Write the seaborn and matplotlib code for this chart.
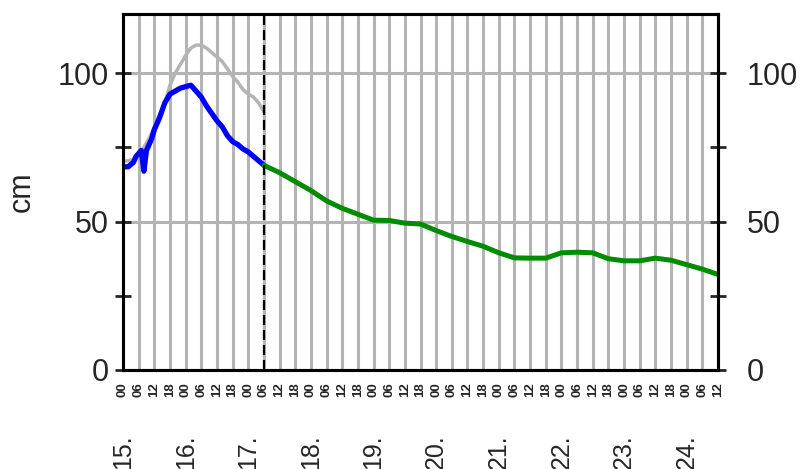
import matplotlib
matplotlib.use("Agg")
import matplotlib.pyplot as plt
import numpy as np
import pandas as pd
import seaborn as sns
from matplotlib.ticker import FixedLocator, MultipleLocator

# time axis: hours since day 15, 00:00
obs_hours = [0, 2, 4, 5, 6, 7, 8, 9, 10, 11, 12, 14, 16, 18, 20, 22, 24, 26, 28,
             30, 32, 34, 36, 38, 40, 42, 44, 46, 48, 50, 52, 54]
obs_cm = [68.5, 68.5, 70, 72, 73, 74, 67, 74, 76, 78, 81, 85, 90, 93, 94, 95, 95.5, 96, 94,
          92, 89, 86.5, 84, 82, 79, 77, 76, 74.5, 73.5, 72, 70.5, 69]

prev_hours = [0, 2, 4, 6, 8, 10, 12, 14, 16, 18, 20, 22, 24, 26, 28,
              30, 32, 34, 36, 38, 40, 42, 44, 46, 48, 50, 52, 54]
prev_cm = [70.5, 70.5, 71, 73, 75, 78, 82, 86, 90, 96, 100, 103, 106, 108.5, 109.5,
           109.5, 108.5, 107, 105.5, 104, 101.5, 99, 97, 94.5, 93, 92, 90, 87]

fc_hours = [54, 60, 66, 72, 78, 84, 90, 96, 102, 108, 114, 120, 126, 132, 138, 144,
            150, 156, 162, 168, 174, 180, 186, 192, 198, 204, 210, 216, 222, 228]
fc_cm = [69, 66.5, 63.5, 60.5, 57, 54.5, 52.5, 50.5, 50.4, 49.5, 49.2, 47, 45, 43.3, 41.7, 39.5,
         37.8, 37.7, 37.7, 39.5, 39.7, 39.5, 37.5, 36.8, 36.8, 37.7, 37, 35.5, 34, 32.2]

days = [15, 16, 17, 18, 19, 20, 21, 22, 23, 24]
hours_of_day = ["00", "06", "12", "18"]
now_hour = 54

tick_pos = list(range(0, 229, 6))
hour_labels = [hours_of_day[(t % 24) // 6] for t in tick_pos]
day_pos = [i * 24 for i in range(len(days))]
day_labels = [f"{d}." for d in days]

obs = pd.DataFrame({"h": obs_hours, "cm": obs_cm})
prev = pd.DataFrame({"h": prev_hours, "cm": prev_cm})
fc = pd.DataFrame({"h": fc_hours, "cm": fc_cm})

sns.set_style("white")
plt.rcParams["font.family"] = ["Liberation Sans", "DejaVu Sans"]

grey = "#b4b4b4"
fig = plt.figure(figsize=(8, 4.69), dpi=100)
ax = fig.add_axes([0.15375, 0.2111, 0.74375, 0.7591])

sns.lineplot(data=prev, x="h", y="cm", ax=ax, color=grey, lw=2.5, zorder=3)
sns.lineplot(data=obs, x="h", y="cm", ax=ax, color="#0000ff", lw=3.8, zorder=4)
sns.lineplot(data=fc, x="h", y="cm", ax=ax, color="#008c00", lw=3.6, zorder=4)
ax.axvline(now_hour, color="black", lw=1.6, ls=(0, (4.5, 2.25)), zorder=5)

ax.set_xlim(0, 228)
ax.set_ylim(0, 120)

# 6-hourly ticks with hour labels, hourly minor ticks
ax.xaxis.set_major_locator(FixedLocator(tick_pos))
ax.set_xticklabels(hour_labels, rotation=90, fontsize=9.5, fontweight="bold")
ax.xaxis.set_minor_locator(MultipleLocator(1))
ax.tick_params(axis="x", which="both", direction="inout", length=10, width=1.2,
               color="black", pad=4)

# day labels further down
sec = ax.secondary_xaxis("bottom")
sec.set_xticks(day_pos, day_labels)
sec.tick_params(axis="x", length=0, pad=46, labelsize=18, labelrotation=90)
sec.spines["bottom"].set_visible(False)

ax.set_yticks([0, 50, 100])
ax.yaxis.set_minor_locator(FixedLocator([25, 75]))
ax.tick_params(axis="y", which="both", direction="inout", length=11, width=2,
               labelsize=22, pad=5)

ax.grid(True, axis="x", which="major", color=grey, lw=2.2, zorder=1)
ax.grid(True, axis="y", which="major", color=grey, lw=2.2, zorder=1)
ax.set_axisbelow(True)

ax.set_xlabel("")
ax.set_ylabel("cm", fontsize=22)
ax.yaxis.set_label_coords(-0.1445, 0.5)

ax2 = ax.twinx()
ax2.set_ylim(0, 120)
ax2.set_yticks([0, 50, 100])
ax2.yaxis.set_minor_locator(FixedLocator([25, 75]))
ax2.tick_params(axis="y", which="both", direction="inout", length=11, width=2,
                labelsize=22, pad=15)

for a in (ax, ax2):
    for s in a.spines.values():
        s.set_color("black")
        s.set_linewidth(2.2)

fig.savefig("out.png", dpi=100)
